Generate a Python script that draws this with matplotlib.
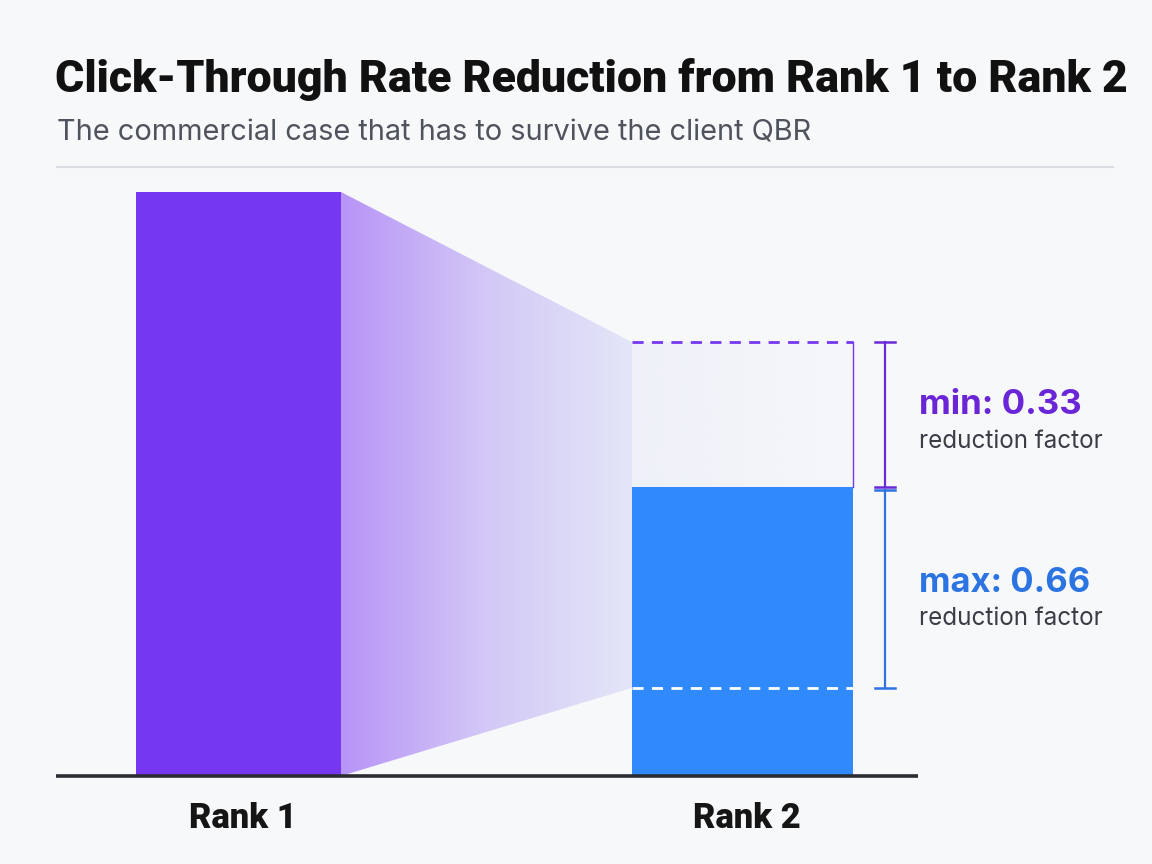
import matplotlib
matplotlib.use("Agg")
import matplotlib.pyplot as plt
import numpy as np
from matplotlib.patches import Polygon
from matplotlib.colors import to_rgb
from matplotlib import font_manager as fm

# ---- data ----
categories = ["Rank 1", "Rank 2"]
ctr_values = [100.0, 49.5]          # relative CTR (Rank 1 = 100)
range_upper = 74.3                   # min reduction (0.33) level
range_lower = 15.1                   # max reduction (0.66) level
range_labels = ["min: 0.33", "max: 0.66"]
range_sub = "reduction factor"
title = "Click-Through Rate Reduction from Rank 1 to Rank 2"
subtitle = "The commercial case that has to survive the client QBR"

W, H = 1152, 864
BG = "#f7f8fa"
PURPLE = "#7537ef"
BLUE = "#318afb"
PURPLE_TXT = "#6a26d6"
BLUE_TXT = "#2b74e2"
FONT = ["Inter", "DejaVu Sans"]

# heavy font for title if available
heavy_weight = "bold"
heavy_family = FONT
for f in fm.fontManager.ttflist:
    if f.name == "Roboto" and f.weight in (900, "black", "heavy"):
        heavy_weight = 900
        heavy_family = ["Roboto", "DejaVu Sans"]
        break

fig = plt.figure(figsize=(W / 100, H / 100), dpi=100, facecolor=BG)

def px(x0, y0):
    return x0 / W, 1 - y0 / H

# axes: x pixels 56..918, y pixels 776 (0) .. 192 (100)
ax_l, ax_r, ax_b, ax_t = 56, 918, 776, 192
ax = fig.add_axes([ax_l / W, 1 - ax_b / H, (ax_r - ax_l) / W, (ax_b - ax_t) / H])
ax.set_facecolor("none")
c1, c2 = 238.5, 742.5
sp = c2 - c1
XL = (-(c1 - ax_l) / sp, (ax_r - c1) / sp)
ax.set_xlim(*XL)
ax.set_ylim(0, 100)
for s in ax.spines.values():
    s.set_visible(False)
ax.set_xticks([])
ax.set_yticks([])

xpos = np.arange(len(categories))
widths = [205 / sp, 221 / sp]
ax.bar(xpos[0], ctr_values[0], width=widths[0], color=PURPLE, zorder=3)
ax.bar(xpos[1], ctr_values[1], width=widths[1], color=BLUE, zorder=3)

b1_right = xpos[0] + widths[0] / 2
b2_left = xpos[1] - widths[1] / 2
b2_right = xpos[1] + widths[1] / 2

# gradient funnel
poly = Polygon([(b1_right, ctr_values[0]), (b2_left, range_upper),
                (b2_left, range_lower), (b1_right, 0)],
               closed=True, facecolor="none", edgecolor="none")
ax.add_patch(poly)
cl = np.array(to_rgb("#b794f7"))
cm = np.array(to_rgb("#d3c8f6"))
cr = np.array(to_rgb("#e3e6f8"))
t = np.linspace(0, 1, 256)
grad = np.where(t[:, None] < 0.5,
                cl + (cm - cl) * (t[:, None] / 0.5),
                cm + (cr - cm) * ((t[:, None] - 0.5) / 0.5))
img = ax.imshow(grad[None, :, :], extent=[b1_right, b2_left, 0, 100],
                aspect="auto", zorder=2, interpolation="bilinear")
img.set_clip_path(poly)

# faint tint inside the range box above rank 2
tint = np.zeros((1, 256, 4))
tint[..., :3] = to_rgb("#e3e6f8")
tint[..., 3] = np.linspace(0.4, 0.05, 256)
ax.imshow(tint, extent=[b2_left, b2_right, ctr_values[1], range_upper],
          aspect="auto", zorder=2, interpolation="bilinear")
ax.set_xlim(*XL)
ax.set_ylim(0, 100)

# dashed reference lines
ax.plot([b2_left, b2_right], [range_upper, range_upper], color=PURPLE,
        lw=2, dashes=(4, 3), zorder=4)
ax.plot([b2_left, b2_right], [range_lower, range_lower], color="white",
        lw=2, dashes=(4, 3), zorder=4)
ax.plot([b2_right, b2_right], [ctr_values[1], range_upper], color=PURPLE,
        lw=1, zorder=4)

# brackets
bx = (885 - c1) / sp
cap = 10.5 / sp
def bracket(y0, y1, color):
    ax.plot([bx, bx], [y0, y1], color=color, lw=1.6, clip_on=False, zorder=5)
    for yy in (y0, y1):
        ax.plot([bx - cap, bx + cap], [yy, yy], color=color, lw=1.8,
                clip_on=False, zorder=5)

ypp = 100 / (ax_b - ax_t)
bracket(range_upper, ctr_values[1] + 0.3 * ypp, "#6a2ad8")
bracket(ctr_values[1] - 2.6 * ypp, range_lower, "#2f73e0")

# baseline
ax.plot(XL, [0, 0], color="#2a2c33", lw=2.6, clip_on=False,
        zorder=6, solid_capstyle="butt")

renderer = fig.canvas.get_renderer()

def fit_text(x, y, s, target_w, size, **kw):
    t = fig.text(x, y, s, fontsize=size, **kw)
    w = t.get_window_extent(renderer).width
    t.set_fontsize(size * target_w / w)
    return t

# title & subtitle
fit_text(*px(55, 92), title, 1070, 30, fontweight=heavy_weight, color="#111111",
         family=heavy_family, va="baseline", ha="left")
fit_text(*px(57, 140), subtitle, 756, 20, color="#4f535d", family=FONT,
         va="baseline", ha="left")
fig.add_artist(plt.Line2D([57 / W, 1113 / W], [1 - 167 / H] * 2,
                          color="#dcdde2", lw=1.5))

# category labels
for i, cat in enumerate(categories):
    cx = c1 + i * sp
    fit_text(*px(cx + 4, 828), cat, 108, 24, fontweight=heavy_weight,
             color="#151515", family=heavy_family, va="baseline", ha="center")

# range labels
fit_text(*px(919, 414), range_labels[0], 163, 26, fontweight="bold",
         color=PURPLE_TXT, family=FONT, va="baseline", ha="left")
fit_text(*px(919, 448), range_sub, 184, 16, color="#3a3d45",
         family=FONT, va="baseline", ha="left")
fit_text(*px(919, 592), range_labels[1], 171, 26, fontweight="bold",
         color=BLUE_TXT, family=FONT, va="baseline", ha="left")
fit_text(*px(919, 625), range_sub, 184, 16, color="#3a3d45",
         family=FONT, va="baseline", ha="left")

fig.savefig("out.png", dpi=100, facecolor=BG)
